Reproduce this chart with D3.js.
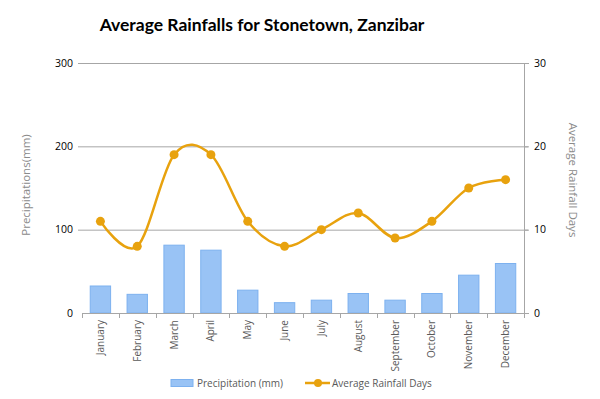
<!DOCTYPE html>
<html>
<head>
<meta charset="utf-8">
<script src="https://cdn.jsdelivr.net/npm/d3@7"></script>
<style>
  body { margin: 0; background: #fff; }
  svg { display: block; }
</style>
</head>
<body>
<svg id="chart" width="600" height="399"></svg>
<script>
// data
var months = ["January", "February", "March", "April", "May", "June",
              "July", "August", "September", "October", "November", "December"];
var precipitation = [33, 23, 82, 76, 28, 13, 16, 24, 16, 24, 46, 60];
var rainDays = [11, 8, 19, 19, 11, 8, 10, 12, 9, 11, 15, 16];
var leftTicks = [0, 100, 200, 300];
var rightTicks = [0, 10, 20, 30];

var margin = {top: 63, right: 76, bottom: 86, left: 82},
    width = 600 - margin.left - margin.right,
    height = 399 - margin.top - margin.bottom,
    barColor = "#99c3f5",
    barStroke = "#7db1ef",
    lineColor = "#e8a20e",
    textFont = "'Open Sans', sans-serif";

var svg = d3.select("#chart");
var g = svg.append("g")
  .attr("transform", "translate(" + margin.left + "," + margin.top + ")");

var x = d3.scaleBand().domain(months).range([0, width]).paddingInner(0.42).paddingOuter(0.21);
var yL = d3.scaleLinear().domain([0, 300]).range([height, 0]);
var yR = d3.scaleLinear().domain([0, 30]).range([height, 0]);

// gridlines
g.append("g").selectAll("line").data(leftTicks.slice(1)).enter()
  .append("line")
    .attr("x1", -4).attr("x2", width + 4)
    .attr("y1", d => yL(d) + 0.5).attr("y2", d => yL(d) + 0.5)
    .attr("stroke", "#a6a6a6").attr("stroke-width", 1);

// left tick labels
g.append("g").selectAll("text").data(leftTicks).enter()
  .append("text")
    .attr("x", -9).attr("y", d => yL(d)).attr("dy", "0.35em")
    .attr("text-anchor", "end")
    .attr("font-family", textFont).attr("font-size", "10.5px").attr("fill", "#000")
    .text(d => d);

// right axis
g.append("line")
  .attr("x1", width + 0.5).attr("x2", width + 0.5).attr("y1", 0).attr("y2", height)
  .attr("stroke", "#a6a6a6");
g.append("g").selectAll("line").data(rightTicks).enter()
  .append("line")
    .attr("x1", width).attr("x2", width + 5)
    .attr("y1", d => yR(d) + 0.5).attr("y2", d => yR(d) + 0.5)
    .attr("stroke", "#a6a6a6");
g.append("g").selectAll("text").data(rightTicks).enter()
  .append("text")
    .attr("x", width + 10).attr("y", d => yR(d)).attr("dy", "0.35em")
    .attr("font-family", textFont).attr("font-size", "10.5px").attr("fill", "#000")
    .text(d => d);

// bars
g.append("g").selectAll("rect").data(precipitation).enter()
  .append("rect")
    .attr("x", (d, i) => x(months[i]) + 0.5)
    .attr("y", d => yL(d) + 0.5)
    .attr("width", x.bandwidth() - 1)
    .attr("height", d => height - yL(d) - 0.5)
    .attr("fill", barColor)
    .attr("stroke", barStroke).attr("stroke-width", 1);

// bottom axis with ticks between categories
g.append("line")
  .attr("x1", 0).attr("x2", width).attr("y1", height + 0.5).attr("y2", height + 0.5)
  .attr("stroke", "#a6a6a6");
g.append("g").selectAll("line").data(d3.range(months.length + 1)).enter()
  .append("line")
    .attr("x1", i => Math.round(i * x.step()) + 0.5)
    .attr("x2", i => Math.round(i * x.step()) + 0.5)
    .attr("y1", height).attr("y2", height + 5)
    .attr("stroke", "#a6a6a6");

g.append("g").selectAll("text").data(months).enter()
  .append("text")
    .attr("transform", d => "translate(" + (x(d) + x.bandwidth() / 2) + "," + (height + 7) + ") rotate(-90)")
    .attr("text-anchor", "end").attr("dy", "0.35em")
    .attr("font-family", textFont).attr("font-size", "10px").attr("fill", "#595959")
    .text(d => d);

// line series
var pts = rainDays.map((d, i) => [x(months[i]) + x.bandwidth() / 2, yR(d)]);
g.append("path")
  .attr("d", d3.line().curve(d3.curveCatmullRom.alpha(0))(pts))
  .attr("fill", "none").attr("stroke", lineColor).attr("stroke-width", 2.5);
g.append("g").selectAll("circle").data(pts).enter()
  .append("circle")
    .attr("cx", d => d[0]).attr("cy", d => d[1]).attr("r", 4.5)
    .attr("fill", lineColor);

// title
svg.append("text")
  .attr("x", 262).attr("y", 31)
  .attr("text-anchor", "middle")
  .attr("font-family", "Lato, sans-serif").attr("font-weight", "bold")
  .attr("font-size", "17.5px").attr("fill", "#000")
  .text("Average Rainfalls for Stonetown, Zanzibar");

// axis titles
svg.append("text")
  .attr("transform", "translate(30,185) rotate(-90)")
  .attr("text-anchor", "middle")
  .attr("font-family", textFont).attr("font-size", "11.5px").attr("fill", "#8a8a8a")
  .text("Precipitations(mm)");
svg.append("text")
  .attr("transform", "translate(569,180) rotate(90)")
  .attr("text-anchor", "middle")
  .attr("font-family", textFont).attr("font-size", "11.5px").attr("fill", "#8a8a8a")
  .text("Average Rainfall Days");

// legend
var legend = svg.append("g").attr("transform", "translate(0,383)");
legend.append("rect")
  .attr("x", 171).attr("y", -3.5).attr("width", 22).attr("height", 7)
  .attr("fill", barColor).attr("stroke", barStroke);
legend.append("text")
  .attr("x", 197).attr("dy", "0.35em")
  .attr("font-family", textFont).attr("font-size", "10px").attr("fill", "#595959")
  .text("Precipitation (mm)");
legend.append("line")
  .attr("x1", 305).attr("x2", 330).attr("y1", 0).attr("y2", 0)
  .attr("stroke", lineColor).attr("stroke-width", 2.5);
legend.append("circle")
  .attr("cx", 318).attr("cy", 0).attr("r", 4).attr("fill", lineColor);
legend.append("text")
  .attr("x", 332).attr("dy", "0.35em")
  .attr("font-family", textFont).attr("font-size", "10px").attr("fill", "#595959")
  .text("Average Rainfall Days");
</script>
</body>
</html>
